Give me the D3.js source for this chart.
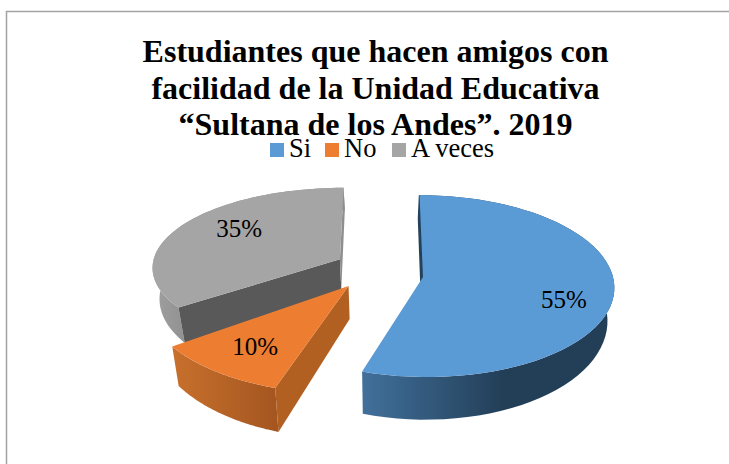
<!DOCTYPE html>
<html>
<head>
<meta charset="utf-8">
<script src="https://cdn.jsdelivr.net/npm/d3@7"></script>
<style>
  html, body { margin: 0; padding: 0; background: #fff; overflow: hidden; }
  text { font-family: "Liberation Serif", serif; fill: #000; }
</style>
</head>
<body>
<div id="chart"></div>
<script>
// chart data
const categories = ["Si", "No", "A veces"];
const values = [55, 10, 35];
const labels = ["55%", "10%", "35%"];
const titleLines = ["Estudiantes que hacen amigos con", "facilidad de la Unidad Educativa", "\u201cSultana de los Andes\u201d. 2019"];

// colours per slice
const topColors = ["#5b9bd5", "#ed7d31", "#a5a5a5"];
const wallFrom = ["#41709b", "#c8702d", "#a0a0a0"];
const wallTo = ["#233f58", "#a4561f", "#8e8e8e"];
const cutColors = ["#24425c", "#b25f22", "#595959"];

// fake 3d view
const cx = 385, cy = 277, rx = 190, ry = 90, persp = 0.1, shrink = 0.03;
const explode = [[0.2, 0], [-0.19, 0.1], [-0.242, -0.2]];
const radiusX = [1, 1.05, 1];
const radiusZ = [1, 1.05, 0.9];
const wallSpan = [140, 105, 40];
const labelR = [0.74, 0.72, 0.63];
const labelDy = [12, 0, -9];

const svg = d3.select("#chart")
    .append("svg")
    .attr("width", 729)
    .attr("height", 464);

const defs = svg.append("defs");

// frame, runs off the right and bottom of the picture
svg.append("rect")
    .attr("x", 6.5)
    .attr("y", 11.5)
    .attr("width", 740)
    .attr("height", 470)
    .attr("fill", "#fff")
    .attr("stroke", "#a3a3a3")
    .attr("stroke-width", 1.5);

// world (X, Z) to screen
function project(X, Z, down) {
    const s = 1 / (1 - persp * Z);
    let x = cx + X * s * rx;
    let y = cy + Z * s * ry;
    if (down) {
        x = cx + (x - cx) * (1 - shrink);
        y += 32 + 96 * (s - 1);
    }
    return [x, y];
}

const arcs = d3.pie().sort(null).value(d => d)(values);
const line = d3.line();

function rimPoint(i, a, down, f = 1) {
    const e = explode[i];
    return project(e[0] + f * radiusX[i] * Math.sin(a), e[1] - f * radiusZ[i] * Math.cos(a), down);
}

function rim(i, d, down) {
    return d3.range(0, 61).map(t => rimPoint(i, d.startAngle + (d.endAngle - d.startAngle) * t / 60, down));
}

function cutFace(i, a) {
    const e = explode[i];
    return [project(e[0], e[1], false), rimPoint(i, a, false), rimPoint(i, a, true), project(e[0], e[1], true)];
}

// painter's order, back to front
[2, 1, 0].forEach(i => {
    const d = arcs[i];
    const g = svg.append("g");

    const left = d3.min(rim(i, d, false), p => p[0]);
    const gradient = defs.append("linearGradient")
        .attr("id", "wall" + i)
        .attr("gradientUnits", "userSpaceOnUse")
        .attr("x1", left)
        .attr("x2", left + wallSpan[i])
        .attr("y1", 0)
        .attr("y2", 0);
    gradient.append("stop").attr("offset", "0%").attr("stop-color", wallFrom[i]);
    gradient.append("stop").attr("offset", "100%").attr("stop-color", wallTo[i]);

    // outer wall
    g.append("path")
        .attr("d", line(rim(i, d, false).concat(rim(i, d, true).reverse())) + "Z")
        .attr("fill", "url(#wall" + i + ")");

    // cut face at the start of the slice; blue one is only a thin sliver
    g.append("path")
        .attr("d", line(cutFace(i, d.startAngle)) + "Z")
        .attr("fill", cutColors[i])
        .attr("stroke", i === 0 ? cutColors[i] : "none")
        .attr("stroke-width", 1.5);

    // grey also shows its far cut on the right
    if (i === 2) {
        g.append("path")
            .attr("d", line(cutFace(i, d.endAngle)) + "Z")
            .attr("fill", wallTo[i]);
    }

    // top surface
    g.append("path")
        .attr("d", line([project(explode[i][0], explode[i][1], false)].concat(rim(i, d, false))) + "Z")
        .attr("fill", topColors[i]);
});

// value labels
arcs.forEach((d, i) => {
    const p = rimPoint(i, (d.startAngle + d.endAngle) / 2, false, labelR[i]);
    svg.append("text")
        .attr("x", p[0])
        .attr("y", p[1] + labelDy[i])
        .attr("dy", ".35em")
        .attr("text-anchor", "middle")
        .style("font-size", "25px")
        .text(labels[i]);
});

// title
svg.selectAll(".title")
    .data(titleLines)
    .enter()
    .append("text")
    .attr("class", "title")
    .attr("x", 375.5)
    .attr("y", (d, i) => 62 + i * 36.5)
    .attr("text-anchor", "middle")
    .style("font-size", "32px")
    .style("font-weight", "bold")
    .text(d => d);

// legend
const legendX = d3.scaleOrdinal().domain(categories).range([270, 325, 392]);
const legend = svg.selectAll(".legend")
    .data(categories)
    .enter()
    .append("g")
    .attr("class", "legend")
    .attr("transform", d => "translate(" + legendX(d) + ",143)");

legend.append("rect")
    .attr("width", 14)
    .attr("height", 14)
    .attr("fill", (d, i) => topColors[i]);

legend.append("text")
    .attr("x", 19)
    .attr("y", 14)
    .style("font-size", "26.5px")
    .text(d => d);
</script>
</body>
</html>
